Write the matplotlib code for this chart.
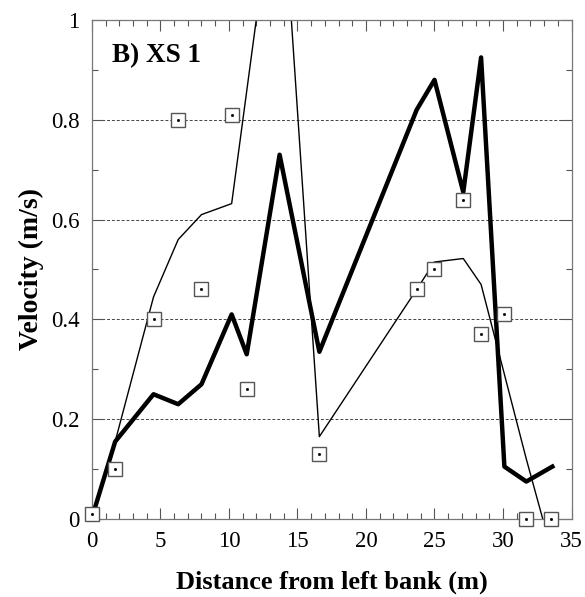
import matplotlib
matplotlib.use('Agg')
from matplotlib import pyplot as plt
from matplotlib.ticker import MultipleLocator, FuncFormatter

# measured velocities (squares)
obs_x = [0.0, 1.7, 4.5, 6.3, 8.0, 10.2, 11.3, 16.6, 23.7, 25.0, 27.1, 28.4, 30.1, 31.7, 33.5]
obs_v = [0.01, 0.10, 0.40, 0.80, 0.46, 0.81, 0.26, 0.13, 0.46, 0.50, 0.64, 0.37, 0.41, 0.0, 0.0]

# thick model line
thick_x = [0.2, 1.7, 4.5, 6.3, 8.0, 10.2, 11.3, 13.7, 16.6, 23.7, 25.0, 27.1, 28.4, 30.1, 31.7, 33.6]
thick_v = [0.02, 0.155, 0.25, 0.23, 0.27, 0.41, 0.33, 0.73, 0.335, 0.82, 0.88, 0.655, 0.925, 0.105, 0.075, 0.105]

# thin model line
thin_x = [0.2, 1.7, 4.5, 6.3, 8.0, 10.2, 13.7, 16.6, 23.7, 25.0, 27.1, 28.4, 30.1, 31.7, 33.5]
thin_v = [0.02, 0.155, 0.445, 0.56, 0.61, 0.632, 1.35, 0.165, 0.46, 0.515, 0.522, 0.47, 0.29, 0.12, -0.06]

plt.rcParams['font.family'] = ['Liberation Serif', 'DejaVu Serif']

fig = plt.figure(figsize=(5.85, 5.97), dpi=100)
ax = fig.add_axes([0.157, 0.1307, 0.82, 0.8358])

for y in [0.2, 0.4, 0.6, 0.8, 1.0, 0.0]:
    ax.axhline(y, color='#444444', linestyle=(0, (3, 2)), linewidth=0.7, zorder=1)

ax.plot(thin_x, thin_v, color='black', linewidth=1.0, zorder=2)
ax.plot(thick_x, thick_v, color='black', linewidth=3.2, zorder=3)
ax.plot(obs_x, obs_v, linestyle='none', marker='s', markersize=9.5,
        markerfacecolor='white', markeredgecolor='#555555', markeredgewidth=1.0,
        zorder=4, clip_on=False)
ax.plot(obs_x, obs_v, linestyle='none', marker='s', markersize=1.0,
        color='black', zorder=5, clip_on=False)

ax.set_xlim(0, 35)
ax.set_ylim(0, 1)
ax.xaxis.set_major_locator(MultipleLocator(5))
ax.xaxis.set_minor_locator(MultipleLocator(1))
ax.yaxis.set_major_locator(MultipleLocator(0.2))
ax.yaxis.set_minor_locator(MultipleLocator(0.1))
ax.yaxis.set_major_formatter(FuncFormatter(lambda v, p: '%g' % round(v, 2)))

ax.tick_params(which='both', direction='in', top=True, right=True,
               labelsize=16.5, colors='#555555', labelcolor='black')
ax.tick_params(which='major', length=8, width=0.8, pad=9)
ax.tick_params(which='minor', length=4, width=0.8)
for s in ax.spines.values():
    s.set_color('#777777')
    s.set_linewidth(0.9)

ax.text(0.043, 0.915, 'B) XS 1', transform=ax.transAxes, fontsize=19.5,
        fontweight='bold')
ax.set_xlabel('Distance from left bank (m)', fontsize=19, fontweight='bold',
              labelpad=13)
ax.set_ylabel('Velocity (m/s)', fontsize=20, fontweight='bold', labelpad=5)

fig.savefig('out.png', dpi=100)
